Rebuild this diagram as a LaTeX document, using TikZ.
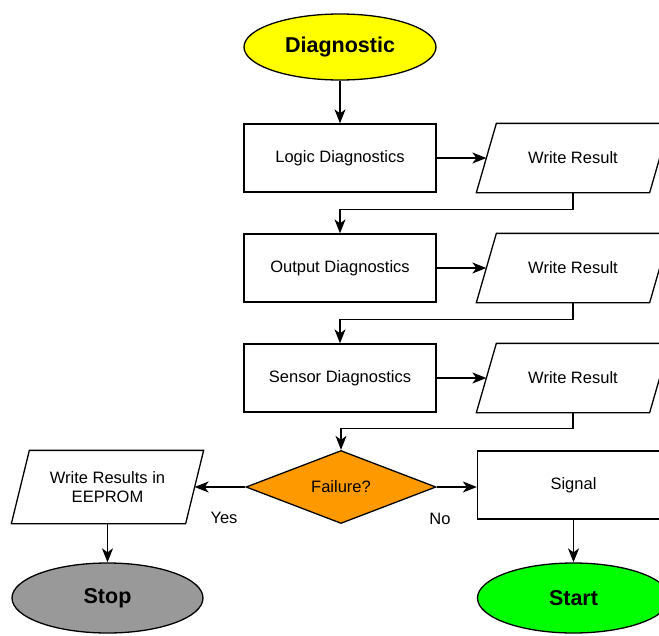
\documentclass[tikz,border=0pt]{standalone}
\usepackage{fontspec}
\setmainfont{Liberation Sans}
\usetikzlibrary{shapes.geometric,arrows.meta}
\definecolor{yel}{HTML}{FFFF00}
\definecolor{org}{HTML}{FF9900}
\definecolor{gry}{HTML}{999999}
\definecolor{grn}{HTML}{00FF00}
\tikzset{
  base/.style={draw=black, line width=1.3pt, font=\fontsize{16.5}{19}\selectfont, align=center, inner sep=0pt},
  term/.style={base, ellipse, minimum width=192pt, minimum height=66pt, font=\fontsize{21.5}{24}\selectfont\bfseries},
  proc/.style={base, rectangle, minimum width=192pt, minimum height=68pt},
  io/.style={base, draw=none, rectangle, minimum width=172pt, minimum height=68pt},
  ioline/.style={line width=1.3pt, line join=miter},
  dec/.style={base, diamond, aspect=2.6, minimum width=190pt, minimum height=73pt},
  conn/.style={line width=1.3pt, -{Stealth[length=14pt,width=11pt,inset=4pt]}},
  lbl/.style={font=\fontsize{16.5}{19}\selectfont}
}
\newcommand{\slantbox}[2]{%
  \draw[ioline] ([xshift=-#2]#1.south west) -- ([xshift=#2]#1.north west) -- ([xshift=#2]#1.north east) -- ([xshift=-#2]#1.south east) -- cycle;}
\begin{document}
\begin{tikzpicture}[x=1pt,y=-1pt]
\useasboundingbox (0,0) rectangle (659,635);
\clip (0,0) rectangle (659,635);
\node[term, fill=yel] (diag) at (340,47) {Diagnostic};
\node[proc] (logic) at (340,158) {Logic Diagnostics};
\node[io] (wr1) at (573,158) {Write Result};
\node[proc] (output) at (340,268) {Output Diagnostics};
\node[io] (wr2) at (573,268) {Write Result};
\node[proc] (sensor) at (340,378) {Sensor Diagnostics};
\node[io] (wr3) at (573,378) {Write Result};
\node[dec, fill=org] (fail) at (341,487) {Failure?};
\node[io, minimum height=72pt, minimum width=173pt] (eeprom) at (107.5,487) {Write Results in\\EEPROM};
\node[proc] (signal) at (573.5,485) {Signal};
\node[term, fill=gry, minimum height=70pt, minimum width=191pt] (stop) at (107.5,598) {Stop};
\node[term, fill=grn, minimum height=70pt] (start) at (573.5,598) {Start};
\node[lbl] (yes) at (224,518) {Yes};
\node[lbl] (no) at (440,519) {No};
\slantbox{wr1}{10pt}
\slantbox{wr2}{10pt}
\slantbox{wr3}{10pt}
\slantbox{eeprom}{9pt}

\draw[conn] (diag) -- (logic);
\draw[conn] (logic) -- (wr1);
\draw[conn] (output) -- (wr2);
\draw[conn] (sensor) -- (wr3);
\draw[conn] (wr1.south) -- ++(0,17) -| (output.north);
\draw[conn] (wr2.south) -- ++(0,17) -| (sensor.north);
\draw[conn] (wr3.south) -- ++(0,16) -| (fail.north);
\draw[conn] (fail.west) -- (eeprom);
\draw[conn] (fail.east) -- (fail.east -| signal.west);
\draw[conn] (eeprom.south) -- (stop.north);
\draw[conn] (signal.south) -- (start.north);
\end{tikzpicture}
\end{document}
